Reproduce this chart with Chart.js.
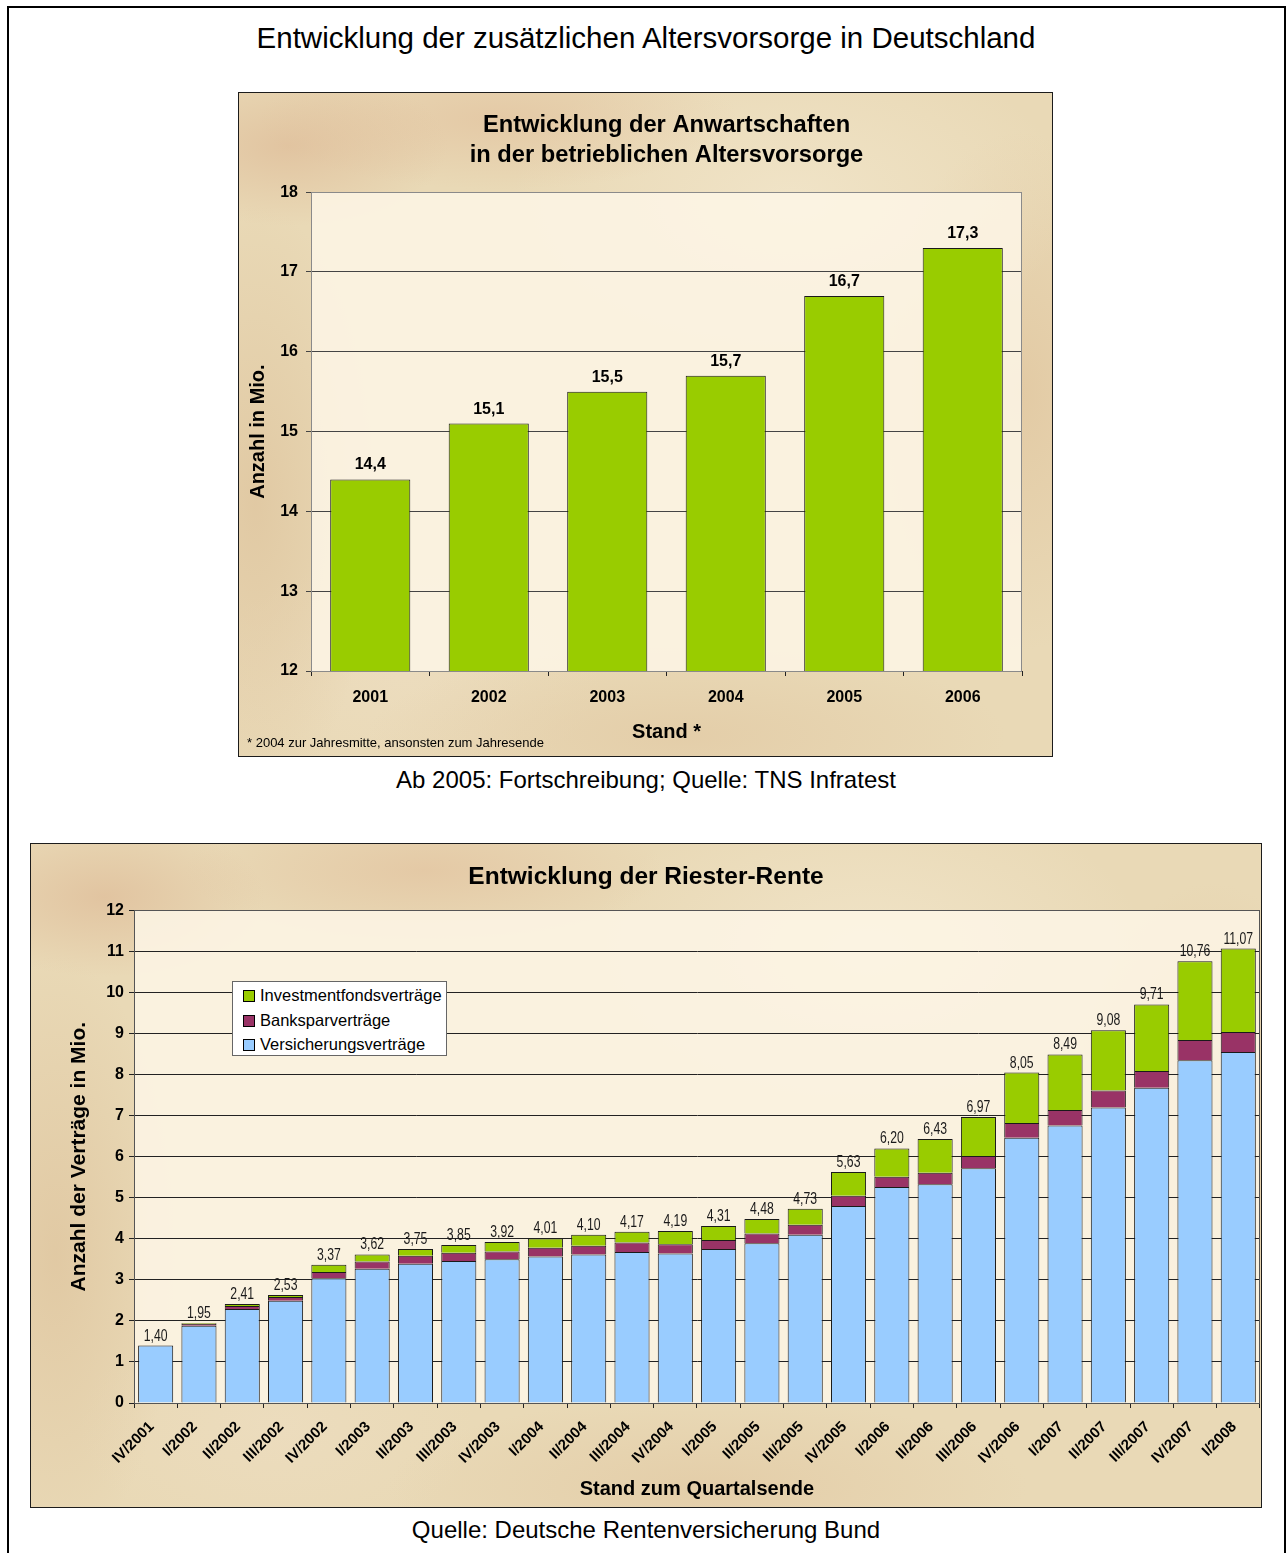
<!DOCTYPE html>
<html>
<head>
<meta charset="utf-8">
<script src="https://cdn.jsdelivr.net/npm/chart.js@4.4.1/dist/chart.umd.min.js"></script>
<style>
  html, body { margin: 0; padding: 0; background: #fff; }
  body { width: 1286px; height: 1553px; position: relative; overflow: hidden;
         font-family: "Liberation Sans", Arial, Helvetica, sans-serif; color: #000; }
  #frame { position: absolute; left: 7px; top: 6px; width: 1279px; height: 1600px;
           border: 2px solid #000; box-sizing: border-box; }
  .cap { position: absolute; left: 0; width: 1292px; text-align: center; white-space: nowrap; }
  .panel { position: absolute; border: 1px solid #1c1c1c; box-sizing: border-box;
    background-color: #e9d9b6;
    background-image:
      radial-gradient(ellipse 160px 80px at 6% 8%, rgba(220,182,146,.6), rgba(220,182,146,0)),
      radial-gradient(ellipse 240px 70px at 32% 4%, rgba(224,188,152,.55), rgba(224,188,152,0)),
      radial-gradient(ellipse 280px 160px at 68% 16%, rgba(244,233,208,.65), rgba(244,233,208,0)),
      radial-gradient(ellipse 140px 260px at 96% 45%, rgba(222,192,152,.6), rgba(222,192,152,0)),
      radial-gradient(ellipse 320px 90px at 55% 97%, rgba(224,198,160,.6), rgba(224,198,160,0)),
      radial-gradient(ellipse 120px 300px at 2% 62%, rgba(218,188,148,.55), rgba(218,188,148,0)),
      radial-gradient(ellipse 200px 120px at 20% 88%, rgba(238,222,194,.6), rgba(238,222,194,0));
  }
  .panel canvas { position: absolute; left: 0; top: 0; }
  #note { position: absolute; left: 247px; top: 735px; font-size: 13px; line-height: 16px; white-space: nowrap; }
  #legend { position: absolute; left: 232px; top: 981px; width: 215px; height: 75px;
            background: #fff; border: 1px solid #666; box-sizing: border-box; }
  #legend div { position: absolute; left: 10px; height: 20px; font-size: 16.5px; line-height: 20px; white-space: nowrap; }
  #legend span { display: inline-block; width: 10px; height: 10px; border: 1px solid #000;
                 margin-right: 5px; vertical-align: -1px; }
</style>
</head>
<body>
<div id="frame"></div>
<div class="cap" style="top:20px;font-size:29.5px;line-height:36px;">Entwicklung der zusätzlichen Altersvorsorge in Deutschland</div>

<div class="panel" style="left:238px;top:92px;width:815px;height:665px;">
  <canvas id="chartTop" width="813" height="663"></canvas>
</div>
<div id="note">* 2004 zur Jahresmitte, ansonsten zum Jahresende</div>
<div class="cap" style="top:765px;font-size:24px;line-height:30px;">Ab 2005: Fortschreibung; Quelle: TNS Infratest</div>

<div class="panel" style="left:30px;top:843px;width:1232px;height:665px;">
  <canvas id="chartBottom" width="1230" height="663"></canvas>
</div>
<div id="legend"></div>
<div class="cap" style="top:1515px;font-size:24px;line-height:30px;">Quelle: Deutsche Rentenversicherung Bund</div>

<script>
// Betriebliche Altersvorsorge, Anwartschaften in Mio.
const years = ["2001", "2002", "2003", "2004", "2005", "2006"];
const anwartschaften = [14.4, 15.1, 15.5, 15.7, 16.7, 17.3];

// Riester-Rente, Verträge in Mio. je Quartal
const quarters = ["IV/2001", "I/2002", "II/2002", "III/2002", "IV/2002", "I/2003", "II/2003", "III/2003",
  "IV/2003", "I/2004", "II/2004", "III/2004", "IV/2004", "I/2005", "II/2005", "III/2005", "IV/2005",
  "I/2006", "II/2006", "III/2006", "IV/2006", "I/2007", "II/2007", "III/2007", "IV/2007", "I/2008"];
const versicherung = [1.40, 1.88, 2.29, 2.49, 3.04, 3.27, 3.39, 3.46, 3.50, 3.57, 3.62, 3.68, 3.64,
  3.75, 3.89, 4.10, 4.80, 5.26, 5.33, 5.72, 6.46, 6.76, 7.20, 7.68, 8.35, 8.55];
const banksparen = [0, 0.05, 0.07, 0.09, 0.15, 0.18, 0.20, 0.20, 0.19, 0.21, 0.21, 0.23, 0.23,
  0.22, 0.24, 0.24, 0.25, 0.25, 0.28, 0.30, 0.36, 0.38, 0.41, 0.41, 0.49, 0.49];
const investment = [0, 0.02, 0.05, 0.05, 0.18, 0.17, 0.16, 0.19, 0.23, 0.23, 0.27, 0.26, 0.32,
  0.34, 0.35, 0.39, 0.58, 0.69, 0.82, 0.95, 1.23, 1.35, 1.47, 1.62, 1.92, 2.03];
const totals = [1.40, 1.95, 2.41, 2.53, 3.37, 3.62, 3.75, 3.85, 3.92, 4.01, 4.10, 4.17, 4.19,
  4.31, 4.48, 4.73, 5.63, 6.20, 6.43, 6.97, 8.05, 8.49, 9.08, 9.71, 10.76, 11.07];

const seriesNames = ["Versicherungsverträge", "Banksparverträge", "Investmentfondsverträge"];
const seriesColors = ["#99CCFF", "#993366", "#99CC00"];

const FONT = '"Liberation Sans", Arial, Helvetica, sans-serif';
Chart.defaults.font.family = FONT;
Chart.defaults.color = '#000';

const de = (v, d) => v.toFixed(d).replace('.', ',');

// lighter plot area + its frame
const plotArea = {
  id: 'plotArea',
  beforeDraw(chart, args, opts) {
    const a = chart.chartArea, ctx = chart.ctx;
    ctx.save();
    ctx.fillStyle = 'rgba(253,246,230,0.85)';
    ctx.fillRect(a.left, a.top, a.right - a.left, a.bottom - a.top);
    ctx.restore();
  },
  beforeDatasetsDraw(chart, args, opts) {
    const a = chart.chartArea, ctx = chart.ctx;
    ctx.save();
    ctx.strokeStyle = opts.color || '#888';
    ctx.lineWidth = 1;
    ctx.strokeRect(Math.round(a.left) + 0.5, Math.round(a.top) + 0.5,
      Math.round(a.right - a.left) - 1, Math.round(a.bottom - a.top));
    ctx.restore();
  }
};

// value labels above the bars (squeeze = horizontal condensing, like a narrow face)
const valueLabels = {
  id: 'valueLabels',
  afterDatasetsDraw(chart, args, opts) {
    const ctx = chart.ctx;
    const meta = chart.getDatasetMeta(chart.data.datasets.length - 1);
    const sq = opts.squeeze || 1;
    ctx.save();
    ctx.font = opts.font;
    ctx.fillStyle = opts.color || '#000';
    ctx.textAlign = 'center';
    ctx.textBaseline = 'alphabetic';
    meta.data.forEach((bar, i) => {
      ctx.save();
      ctx.translate(bar.x, bar.y - opts.gap);
      ctx.scale(sq, 1);
      ctx.fillText(de(opts.values[i], opts.decimals), 0, 0);
      ctx.restore();
    });
    ctx.restore();
  }
};

new Chart(document.getElementById('chartTop'), {
  type: 'bar',
  data: {
    labels: years,
    datasets: [{
      data: anwartschaften,
      backgroundColor: '#99CC00',
      borderColor: '#1a1a1a',
      borderWidth: 1,
      barPercentage: 0.676,
      categoryPercentage: 1
    }]
  },
  options: {
    responsive: false,
    animation: false,
    layout: { padding: { left: 0, right: 30, top: 0, bottom: 0 } },
    plugins: {
      legend: { display: false },
      tooltip: { enabled: false },
      title: {
        display: true,
        fullSize: false,
        text: ['Entwicklung der Anwartschaften', 'in der betrieblichen Altersvorsorge'],
        font: { size: 23.7, weight: 'bold', lineHeight: 1.27 },
        color: '#000',
        padding: { top: 17, bottom: 22 }
      },
      plotArea: { color: '#8a8a8a' },
      valueLabels: { values: anwartschaften, decimals: 1, gap: 10, font: 'bold 16px ' + FONT }
    },
    scales: {
      x: {
        afterFit(s) { s.height = 85; },
        grid: { drawOnChartArea: false, drawTicks: true, tickLength: 5, color: '#222' },
        border: { color: '#222' },
        ticks: { font: { size: 16, weight: 'bold' }, padding: 12, color: '#000' },
        title: { display: true, text: 'Stand *', font: { size: 20, weight: 'bold' },
                 color: '#000', padding: { top: 0, bottom: 12 } }
      },
      y: {
        min: 12, max: 18,
        afterFit(s) { s.width = 72; },
        grid: { color: '#444', tickLength: 5 },
        border: { color: '#333' },
        ticks: { stepSize: 1, font: { size: 16, weight: 'bold' }, padding: 8, color: '#000' },
        title: { display: true, text: 'Anzahl in Mio.', font: { size: 20, weight: 'bold' },
                 color: '#000', padding: { top: 7, bottom: 0 } }
      }
    }
  },
  plugins: [plotArea, valueLabels]
});

const riesterData = [versicherung, banksparen, investment];

new Chart(document.getElementById('chartBottom'), {
  type: 'bar',
  data: {
    labels: quarters,
    datasets: seriesNames.map((name, k) => ({
      label: name,
      data: riesterData[k],
      backgroundColor: seriesColors[k],
      borderColor: '#1a1a1a',
      borderWidth: 1,
      barPercentage: 0.81,
      categoryPercentage: 1
    }))
  },
  options: {
    responsive: false,
    animation: false,
    layout: { padding: { left: 0, right: 0, top: 0, bottom: 0 } },
    plugins: {
      legend: { display: false },
      tooltip: { enabled: false },
      title: {
        display: true,
        text: 'Entwicklung der Riester-Rente',
        font: { size: 24.5, weight: 'bold', lineHeight: 1.2 },
        color: '#000',
        padding: { top: 19, bottom: 18 }
      },
      plotArea: { color: '#555' },
      valueLabels: { values: totals, decimals: 2, gap: 5, font: '17px ' + FONT, color: '#1a1a1a', squeeze: 0.72 }
    },
    scales: {
      x: {
        stacked: true,
        afterFit(s) { s.height = 104; },
        grid: { drawOnChartArea: false, drawTicks: true, tickLength: 5, color: '#222' },
        border: { color: '#222' },
        ticks: { font: { size: 15, weight: 'bold' }, minRotation: 45, maxRotation: 45,
                 autoSkip: false, padding: 10, labelOffset: -4, color: '#000' },
        title: { display: true, text: 'Stand zum Quartalsende', font: { size: 20, weight: 'bold' },
                 color: '#000', padding: { top: 0, bottom: 6 } }
      },
      y: {
        stacked: true,
        min: 0, max: 12,
        afterFit(s) { s.width = 103; },
        grid: { color: '#222', tickLength: 5 },
        border: { color: '#222' },
        ticks: { stepSize: 1, font: { size: 16, weight: 'bold' }, padding: 5, color: '#000' },
        title: { display: true, text: 'Anzahl der Verträge in Mio.', font: { size: 21, weight: 'bold' },
                 color: '#000', padding: { top: 36, bottom: 0 } }
      }
    }
  },
  plugins: [plotArea, valueLabels]
});

// legend box, top entry = top of the stack
const legend = document.getElementById('legend');
[2, 1, 0].forEach((k, row) => {
  const item = document.createElement('div');
  item.style.top = (3 + row * 24.5) + 'px';
  const sw = document.createElement('span');
  sw.style.background = seriesColors[k];
  item.appendChild(sw);
  item.appendChild(document.createTextNode(seriesNames[k]));
  legend.appendChild(item);
});
</script>
</body>
</html>
